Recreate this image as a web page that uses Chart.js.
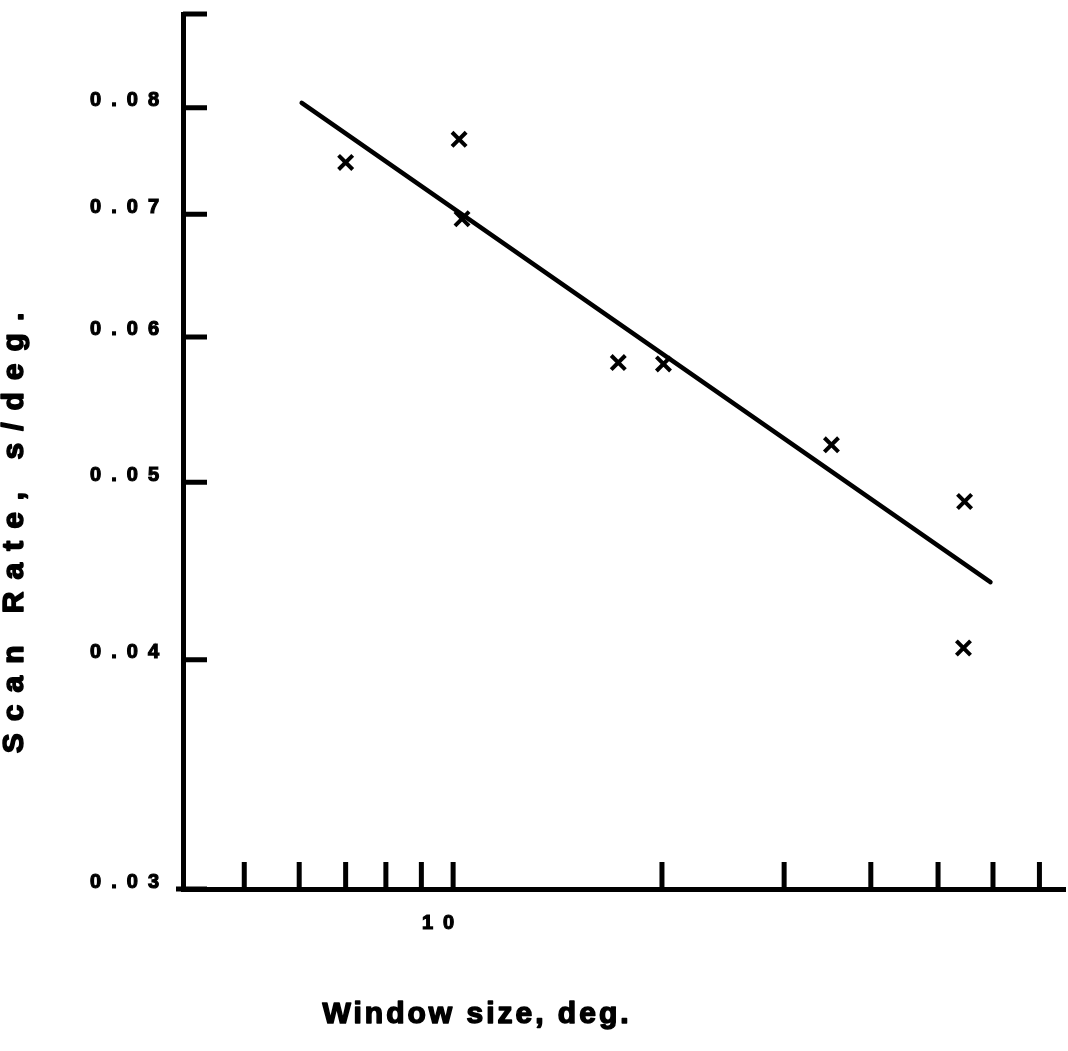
<!DOCTYPE html>
<html>
<head>
<meta charset="utf-8">
<script src="https://cdn.jsdelivr.net/npm/chart.js@4.4.1/dist/chart.umd.min.js"></script>
<style>
  html, body { margin: 0; padding: 0; background: #fff; }
  #wrap { width: 1068px; height: 1051px; position: relative; }
</style>
</head>
<body>
<div id="wrap"><canvas id="scanChart"></canvas></div>
<script>
// measured points (window size, deg. vs scan rate, s/deg.)
const windowSize = [7.0, 10.2, 10.3, 17.3, 20.1, 35.1, 54.6, 54.4];
const scanRate = [0.0747, 0.0769, 0.0696, 0.0581, 0.0580, 0.0524, 0.0488, 0.0406];

// fitted line end points
const fitX = [6.05, 59.5];
const fitY = [0.0805, 0.0441];

// axis ticks
const xTicks = [5, 6, 7, 8, 9, 10, 20, 30, 40, 50, 60, 70];
const xLabelled = [10];
const yTicks = [0.03, 0.04, 0.05, 0.06, 0.07, 0.08];

const xTitle = "Window size, deg.";
const yTitle = "Scan Rate, s/deg.";

const FONT = "'Liberation Sans', Arial, sans-serif";

// tick marks drawn inside the plot, plus the axis titles
const insideTicks = {
  id: "insideTicks",
  beforeDraw(chart) {
    chart.ctx.letterSpacing = "10px";
  },
  afterDraw(chart) {
    const ctx = chart.ctx;
    const xs = chart.scales.x;
    const ys = chart.scales.y;
    ctx.save();
    ctx.strokeStyle = "#000";
    ctx.lineWidth = 5;
    ctx.lineCap = "butt";
    ctx.beginPath();
    xTicks.forEach((v) => {
      const px = xs.getPixelForValue(v);
      ctx.moveTo(px, xs.top);
      ctx.lineTo(px, xs.top - 27);
    });
    yTicks.concat([ys.max]).forEach((v) => {
      const py = ys.getPixelForValue(v);
      ctx.moveTo(ys.right, py);
      ctx.lineTo(ys.right + 24, py);
    });
    // short run of the x axis left of the spine
    ctx.moveTo(176, xs.top);
    ctx.lineTo(ys.right, xs.top);
    ctx.stroke();

    ctx.fillStyle = "#000";
    ctx.lineWidth = 1.5;
    ctx.lineJoin = "round";
    ctx.textAlign = "center";
    ctx.textBaseline = "middle";
    ctx.font = "bold 30px " + FONT;
    ctx.letterSpacing = "3px";
    ctx.fillText(xTitle, 477, 1015);
    ctx.strokeText(xTitle, 477, 1015);

    ctx.translate(15, 527);
    ctx.rotate(-Math.PI / 2);
    ctx.letterSpacing = "12px";
    ctx.fillText(yTitle, 0, 0);
    ctx.strokeText(yTitle, 0, 0);
    ctx.restore();
  },
};

new Chart(document.getElementById("scanChart"), {
  type: "scatter",
  data: {
    datasets: [
      {
        type: "line",
        data: fitX.map((x, i) => ({ x: x, y: fitY[i] })),
        borderColor: "#000",
        borderWidth: 4.5,
        borderCapStyle: "round",
        pointRadius: 0,
        fill: false,
      },
      {
        data: windowSize.map((x, i) => ({ x: x, y: scanRate[i] })),
        pointStyle: "crossRot",
        pointRadius: 10,
        borderColor: "#000",
        borderWidth: 4,
      },
    ],
  },
  options: {
    responsive: true,
    maintainAspectRatio: false,
    animation: false,
    layout: { autoPadding: false, padding: { top: 14, right: 3, left: 0, bottom: 0 } },
    plugins: {
      legend: { display: false },
      tooltip: { enabled: false },
    },
    scales: {
      x: {
        type: "logarithmic",
        min: 4.08,
        max: 76.2,
        afterFit: (s) => {
          s.height = 162;
          s.paddingLeft = 0;
          s.paddingRight = 0;
        },
        afterBuildTicks: (s) => { s.ticks = xTicks.map((v) => ({ value: v })); },
        grid: { display: false },
        border: { display: true, color: "#000", width: 5 },
        ticks: {
          autoSkip: false,
          maxRotation: 0,
          padding: 14,
          labelOffset: -10,
          color: "#000",
          textStrokeColor: "#000",
          textStrokeWidth: 1.2,
          font: { family: FONT, size: 20, weight: "bold" },
          callback: (v) => (xLabelled.includes(v) ? String(v) : ""),
        },
      },
      y: {
        type: "logarithmic",
        min: 0.03,
        max: 0.09,
        afterFit: (s) => {
          s.width = 183;
          s.paddingTop = 0;
          s.paddingBottom = 0;
        },
        afterBuildTicks: (s) => { s.ticks = yTicks.map((v) => ({ value: v })); },
        grid: { display: false },
        border: { display: true, color: "#000", width: 5 },
        ticks: {
          autoSkip: false,
          padding: 6,
          labelOffset: -7,
          color: "#000",
          textStrokeColor: "#000",
          textStrokeWidth: 1.2,
          font: { family: FONT, size: 20, weight: "bold" },
          callback: (v) => v.toFixed(2),
        },
      },
    },
  },
  plugins: [insideTicks],
});
</script>
</body>
</html>
